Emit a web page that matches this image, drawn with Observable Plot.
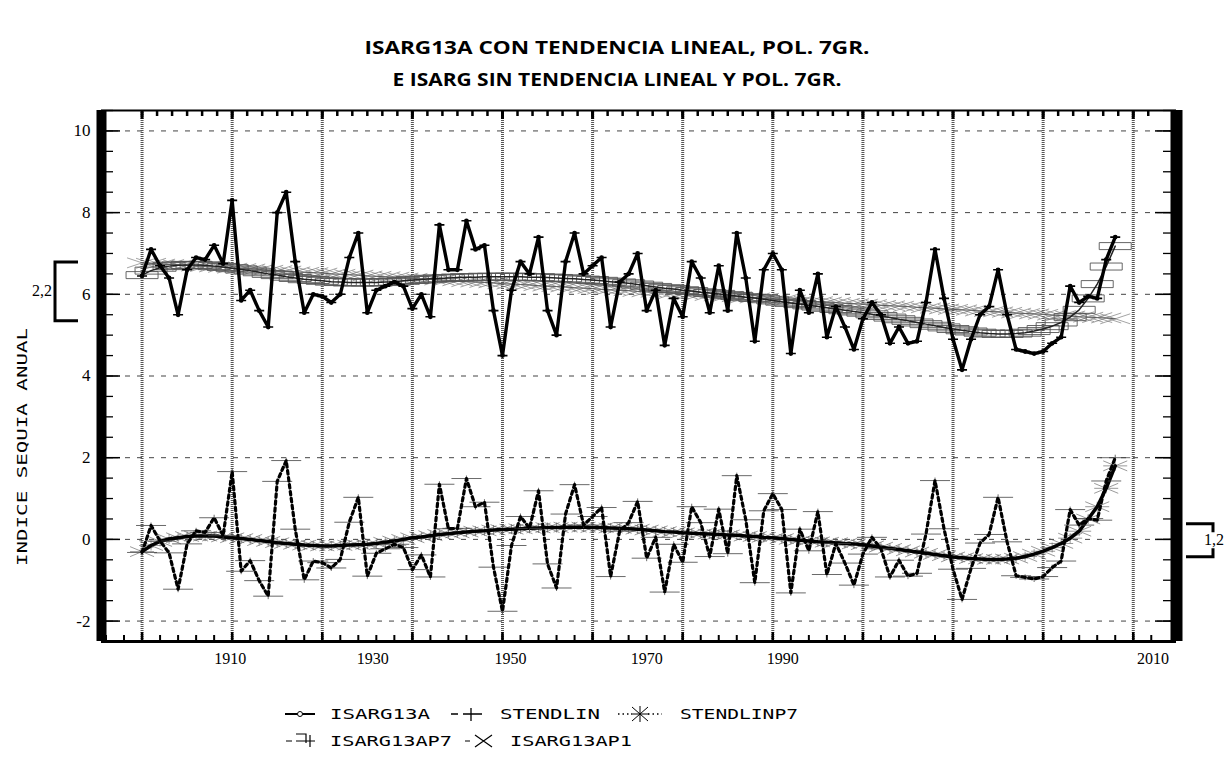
<!DOCTYPE html>
<html><head><meta charset="utf-8">
<script src="https://cdn.jsdelivr.net/npm/d3@7"></script>
<script src="https://cdn.jsdelivr.net/npm/@observablehq/plot@0.6"></script>
<style>
html,body{margin:0;padding:0;background:#fff;width:1229px;height:767px;overflow:hidden;}
#chart{position:absolute;left:0;top:100px;}
#overlay{position:absolute;left:0;top:0;pointer-events:none;}
</style></head><body>
<div id="chart"></div>
<svg id="overlay" width="1229" height="767"></svg>
<script>
// ---------- data ----------
const firstYear = 1900;
const isarg13a = [
 6.45,7.10,6.70,6.40,5.50,6.60,6.90,6.85,7.20,6.75,
 8.30,5.85,6.10,5.60,5.20,8.00,8.50,6.80,5.55,6.00,
 5.95,5.80,6.00,6.90,7.50,5.55,6.10,6.20,6.30,6.20,
 5.65,6.00,5.45,7.70,6.60,6.60,7.80,7.10,7.20,5.60,
 4.50,6.10,6.80,6.50,7.40,5.60,5.00,6.80,7.50,6.50,
 6.70,6.90,5.20,6.30,6.50,7.00,5.60,6.10,4.75,5.90,
 5.45,6.80,6.40,5.55,6.70,5.60,7.50,6.40,4.85,6.60,
 7.00,6.60,4.55,6.10,5.55,6.50,4.95,5.70,5.20,4.65,
 5.40,5.80,5.50,4.80,5.20,4.80,4.85,5.80,7.10,5.90,
 4.90,4.15,4.90,5.50,5.70,6.60,5.50,4.65,4.60,4.55,
 4.60,4.80,4.95,6.20,5.80,5.95,5.90,6.85,7.40];
const stendlin = [
 -0.32,0.34,-0.04,-0.33,-1.22,-0.11,0.21,0.17,0.53,0.09,
 1.66,-0.78,-0.52,-1.01,-1.39,1.42,1.93,0.25,-0.99,-0.53,
 -0.57,-0.70,-0.49,0.42,1.03,-0.90,-0.34,-0.23,-0.12,-0.20,
 -0.74,-0.38,-0.92,1.35,0.26,0.27,1.49,0.80,0.91,-0.68,
 -1.76,-0.15,0.56,0.27,1.19,-0.60,-1.19,0.62,1.34,0.35,
 0.56,0.78,-0.91,0.20,0.41,0.93,-0.46,0.05,-1.29,-0.12,
 -0.56,0.80,0.41,-0.42,0.74,-0.35,1.56,0.48,-1.06,0.70,
 1.12,0.73,-1.31,0.25,-0.28,0.68,-0.86,-0.10,-0.58,-1.12,
 -0.36,0.05,-0.23,-0.92,-0.51,-0.90,-0.83,0.13,1.44,0.26,
 -0.73,-1.47,-0.71,-0.09,0.12,1.03,-0.06,-0.89,-0.93,-0.97,
 -0.91,-0.69,-0.53,0.73,0.35,0.51,0.47,1.43,2.00];
const stendlinp7 = [
 -0.30,-0.15,-0.05,0.01,0.04,0.07,0.08,0.08,0.08,0.06,
 0.04,0.02,0.00,-0.03,-0.05,-0.08,-0.10,-0.12,-0.14,-0.15,
 -0.16,-0.16,-0.15,-0.14,-0.13,-0.12,-0.10,-0.07,-0.04,0.00,
 0.04,0.06,0.09,0.12,0.14,0.16,0.18,0.20,0.21,0.23,
 0.24,0.25,0.26,0.27,0.28,0.29,0.29,0.30,0.30,0.30,
 0.29,0.29,0.28,0.27,0.26,0.25,0.23,0.21,0.19,0.18,
 0.16,0.15,0.14,0.13,0.12,0.11,0.10,0.08,0.07,0.05,
 0.04,0.02,0.00,-0.02,-0.04,-0.06,-0.07,-0.08,-0.10,-0.11,
 -0.13,-0.16,-0.19,-0.22,-0.25,-0.28,-0.31,-0.34,-0.37,-0.40,
 -0.43,-0.45,-0.47,-0.48,-0.49,-0.49,-0.48,-0.46,-0.42,-0.36,
 -0.29,-0.20,-0.10,0.03,0.20,0.50,0.80,1.25,1.80];
const isarg13ap7 = [
 6.47,6.58,6.65,6.69,6.71,6.72,6.72,6.71,6.69,6.67,
 6.64,6.61,6.58,6.54,6.50,6.47,6.43,6.40,6.37,6.35,
 6.33,6.31,6.30,6.29,6.29,6.29,6.29,6.30,6.31,6.33,
 6.35,6.36,6.38,6.39,6.40,6.41,6.42,6.42,6.43,6.43,
 6.43,6.43,6.43,6.42,6.42,6.41,6.40,6.39,6.38,6.36,
 6.35,6.33,6.31,6.29,6.27,6.24,6.21,6.18,6.15,6.13,
 6.10,6.08,6.05,6.03,6.01,5.98,5.96,5.93,5.91,5.88,
 5.85,5.82,5.79,5.76,5.73,5.70,5.67,5.64,5.61,5.58,
 5.55,5.51,5.47,5.43,5.39,5.35,5.31,5.27,5.23,5.19,
 5.15,5.12,5.09,5.06,5.04,5.03,5.03,5.04,5.06,5.10,
 5.15,5.22,5.31,5.44,5.62,5.90,6.25,6.68,7.18];
const isarg13ap1 = [
 6.77,6.76,6.74,6.73,6.72,6.71,6.69,6.68,6.67,6.66,
 6.64,6.63,6.62,6.61,6.59,6.58,6.57,6.55,6.54,6.53,
 6.52,6.50,6.49,6.48,6.47,6.45,6.44,6.43,6.42,6.40,
 6.39,6.38,6.37,6.35,6.34,6.33,6.31,6.30,6.29,6.28,
 6.26,6.25,6.24,6.23,6.21,6.20,6.19,6.18,6.16,6.15,
 6.14,6.12,6.11,6.10,6.09,6.07,6.06,6.05,6.04,6.02,
 6.01,6.00,5.99,5.97,5.96,5.95,5.94,5.92,5.91,5.90,
 5.88,5.87,5.86,5.85,5.83,5.82,5.81,5.80,5.78,5.77,
 5.76,5.75,5.73,5.72,5.71,5.70,5.68,5.67,5.66,5.64,
 5.63,5.62,5.61,5.59,5.58,5.57,5.56,5.54,5.53,5.52,
 5.51,5.49,5.48,5.47,5.45,5.44,5.43,5.42,5.40];

const yTickValues = [-2, 0, 2, 4, 6, 8, 10];
const xGridYears = [1900, 1910, 1920, 1930, 1940, 1950, 1960, 1970, 1980, 1990, 2000, 2010];
const xTickLabels = ["1910", "1930", "1950", "1970", "1990", "2010"];
const xTickLabelAt = [1909.8, 1925.6, 1940.9, 1956.0, 1971.1, 2012.2];
const titleLines = ["ISARG13A CON TENDENCIA LINEAL, POL. 7GR.", "E ISARG SIN TENDENCIA LINEAL Y POL. 7GR."];
const yAxisTitle = "INDICE SEQUIA ANUAL";
const legendRow1 = ["ISARG13A", "STENDLIN", "STENDLINP7"];
const legendRow2 = ["ISARG13AP7", "ISARG13AP1"];
const bracketTop = [6.78, 0.37];
const bracketBottom = [5.34, -0.44];
const bracketLabels = ["2,2", "1,2"];

// ---------- layout ----------
const W = 1229, H = 600, mL = 101, mR = 53, mT = 10, mB = 59;
const fw = W - mL - mR, fh = H - mT - mB;
const xDomain = [1895.5, 2014.8];
const yDomain = [-2.5, 10.5];
const serif = "'Liberation Serif','DejaVu Serif',serif";
const mono = "'DejaVu Sans Mono','Liberation Mono',monospace";

const rows = isarg13a.map((v, i) => ({
  year: firstYear + i, isarg13a: v, stendlin: stendlin[i], p7: stendlinp7[i],
  ap7: isarg13ap7[i], ap1: isarg13ap1[i]
}));

const sym = f => ({draw(c) { f(c); }});
const capSym = sym(c => { c.moveTo(-5, 0); c.lineTo(5, 0); c.moveTo(1.6, 0); c.arc(0, 0, 1.6, 0, 2 * Math.PI); });
const plusWide = sym(c => { c.moveTo(-15, 0); c.lineTo(15, 0); c.moveTo(0, -3); c.lineTo(0, 3); });
const starFlat = sym(c => { c.moveTo(-12, -5); c.lineTo(12, 5); c.moveTo(-12, 5); c.lineTo(12, -5); c.moveTo(-12, 0); c.lineTo(12, 0); c.moveTo(0, -5); c.lineTo(0, 5); });
const xFlat = sym(c => { c.moveTo(-15, -5); c.lineTo(15, 5); c.moveTo(-15, 5); c.lineTo(15, -5); });
const rectWide = sym(c => { c.rect(-16, -3.5, 32, 7); });

const topTicks = d3.range(0, 72).map(i => 1900 + i * 10 / 6).filter(v => v <= 2012);
const bottomTicks = d3.range(1896, 2014, 2);
const yMinor = d3.range(-2.5, 10.51, 0.5);

const chart = Plot.plot({
  width: W, height: H,
  marginLeft: mL, marginRight: mR, marginTop: mT, marginBottom: mB,
  x: {domain: xDomain, axis: null},
  y: {domain: yDomain, axis: null},
  style: {background: "transparent"},
  marks: [
    Plot.ruleY(yTickValues, {stroke: "#444", strokeWidth: 1, strokeDasharray: "5,7"}),
    Plot.ruleX(xGridYears, {stroke: "#555", strokeWidth: 3, strokeDasharray: "1,1"}),
    // linear trend of ISARG13A
    Plot.line(rows, {x: "year", y: "ap1", stroke: "#555", strokeWidth: 1}),
    Plot.dot(rows, {x: "year", y: "ap1", symbol: xFlat, fill: "none", stroke: "#666", strokeWidth: 0.6}),
    // poly 7 of ISARG13A
    Plot.dot(rows, {x: "year", y: "ap7", symbol: rectWide, fill: "none", stroke: "#555", strokeWidth: 0.9}),
    Plot.line(rows, {x: "year", y: "ap7", stroke: "#222", strokeWidth: 1.5}),
    // ISARG13A
    Plot.line(rows, {x: "year", y: "isarg13a", stroke: "#000", strokeWidth: 3.4}),
    Plot.dot(rows, {x: "year", y: "isarg13a", symbol: capSym, fill: "none", stroke: "#000", strokeWidth: 1.6}),
    // STENDLINP7
    Plot.dot(rows, {x: "year", y: "p7", symbol: starFlat, fill: "none", stroke: "#555", strokeWidth: 0.6}),
    Plot.line(rows, {x: "year", y: "p7", stroke: "#000", strokeWidth: 3.5}),
    // STENDLIN
    Plot.dot(rows, {x: "year", y: "stendlin", symbol: plusWide, fill: "none", stroke: "#444", strokeWidth: 0.8}),
    Plot.line(rows, {x: "year", y: "stendlin", stroke: "#000", strokeWidth: 3.2, strokeDasharray: "3.5,3.5"}),
    // frame
    Plot.ruleY([yDomain[1]], {stroke: "#000", strokeWidth: 2}),
    Plot.ruleY([yDomain[0]], {stroke: "#000", strokeWidth: 3}),
    Plot.ruleX(topTicks, {stroke: "#000", strokeWidth: 2.5, insetBottom: fh - 6}),
    Plot.ruleX(xGridYears, {stroke: "#000", strokeWidth: 3, insetBottom: fh - 9}),
    Plot.ruleX(bottomTicks, {stroke: "#000", strokeWidth: 2, insetTop: fh - 6}),
    Plot.ruleX(xGridYears, {stroke: "#000", strokeWidth: 2.5, insetTop: fh - 9}),
    Plot.ruleY(yMinor, {stroke: "#000", strokeWidth: 1.3, insetRight: fw - 12}),
    Plot.ruleY(yTickValues, {stroke: "#000", strokeWidth: 1.5, insetRight: fw - 19}),
    Plot.ruleY(yMinor, {stroke: "#000", strokeWidth: 1.3, insetLeft: fw - 13}),
    Plot.ruleY(yTickValues, {stroke: "#000", strokeWidth: 1.5, insetLeft: fw - 21}),
    Plot.ruleX([xDomain[0]], {stroke: "#000", strokeWidth: 10}),
    Plot.ruleX([xDomain[1]], {stroke: "#000", strokeWidth: 12}),
    // axes text
    Plot.axisY({ticks: yTickValues, tickFormat: d => String(d), tickSize: 0, tickPadding: 11, fontSize: 17, fontFamily: serif, label: null}),
    Plot.text(xTickLabels, {x: (d, i) => xTickLabelAt[i], text: d => d, frameAnchor: "bottom", dy: 22, fontSize: 16, fontFamily: serif, fill: "#000"})
  ]
});
document.getElementById("chart").appendChild(chart);

// brackets, positioned through the plot's y scale
const ys = chart.scale("y");
const cs = d3.select(chart);
bracketLabels.forEach((lab, i) => {
  const y1 = ys.apply(bracketTop[i]), y2 = ys.apply(bracketBottom[i]);
  const ym = (y1 + y2) / 2;
  if (i === 0) {
    cs.append("path").attr("d", `M78,${y1}H55V${y2}H78`)
      .attr("fill", "none").attr("stroke", "#000").attr("stroke-width", 3);
    cs.append("text").text(lab).attr("x", 52).attr("y", ym + 5)
      .attr("text-anchor", "end").attr("font-family", serif).attr("font-size", 16).attr("fill", "#000");
  } else {
    cs.append("path").attr("d", `M1186,${y1}H1213V${ym - 8}M1213,${ym + 8}V${y2}H1186`)
      .attr("fill", "none").attr("stroke", "#000").attr("stroke-width", 3);
    cs.append("text").text(lab).attr("x", 1204).attr("y", ym + 5)
      .attr("text-anchor", "start").attr("font-family", serif).attr("font-size", 16).attr("fill", "#000");
  }
});

// titles, y-axis title and legend
const ov = d3.select("#overlay");
[[titleLines[0], 617, 54, 505], [titleLines[1], 617, 86, 449]].forEach(([t, x, y, w]) => {
  ov.append("text").text(t).attr("x", x).attr("y", y).attr("text-anchor", "middle")
    .attr("font-family", "'Open Sans',sans-serif").attr("font-weight", 700).attr("font-size", 18)
    .attr("textLength", w).attr("lengthAdjust", "spacingAndGlyphs").attr("fill", "#000");
});
ov.append("text").text(yAxisTitle).attr("transform", "translate(27,447) rotate(-90)")
  .attr("text-anchor", "middle").attr("font-family", mono).attr("font-size", 14)
  .attr("textLength", 238).attr("lengthAdjust", "spacingAndGlyphs").attr("fill", "#000");

const legText = (t, x, y, w) => ov.append("text").text(t).attr("x", x).attr("y", y)
  .attr("font-family", mono).attr("font-size", 14).attr("textLength", w)
  .attr("lengthAdjust", "spacingAndGlyphs").attr("fill", "#000");
const r1 = 719, r2 = 746, s1 = 714, s2 = 741;
legText(legendRow1[0], 330, r1, 100);
legText(legendRow1[1], 500, r1, 100);
legText(legendRow1[2], 680, r1, 118);
legText(legendRow2[0], 330, r2, 122);
legText(legendRow2[1], 510, r2, 122);
const P = d => ov.append("path").attr("d", d).attr("fill", "none").attr("stroke", "#000");
P(`M285,${s1}H315`).attr("stroke-width", 2);
ov.append("circle").attr("cx", 300).attr("cy", s1).attr("r", 2.5).attr("fill", "#fff").attr("stroke", "#000");
P(`M451,${s1}H458M463,${s1}H482M471,${s1 - 6}V${s1 + 7}`).attr("stroke-width", 1.3);
P(`M618,${s1}H632M648,${s1}H662`).attr("stroke-width", 1.5).attr("stroke-dasharray", "1.5,3");
P(`M632,${s1 - 7}L648,${s1 + 7}M632,${s1 + 7}L648,${s1 - 7}M631,${s1}H649M640,${s1 - 8}V${s1 + 8}`).attr("stroke-width", 1);
P(`M286,${s2}H292M296,${s2}H315M296,${s2 - 7}H306V${s2 + 2}M310,${s2 - 6}V${s2 + 6}`).attr("stroke-width", 1.2);
P(`M465,${s2}H470M475,${s2 - 6}L492,${s2 + 6}M475,${s2 + 6}L492,${s2 - 6}`).attr("stroke-width", 1.2);
</script>
</body></html>
